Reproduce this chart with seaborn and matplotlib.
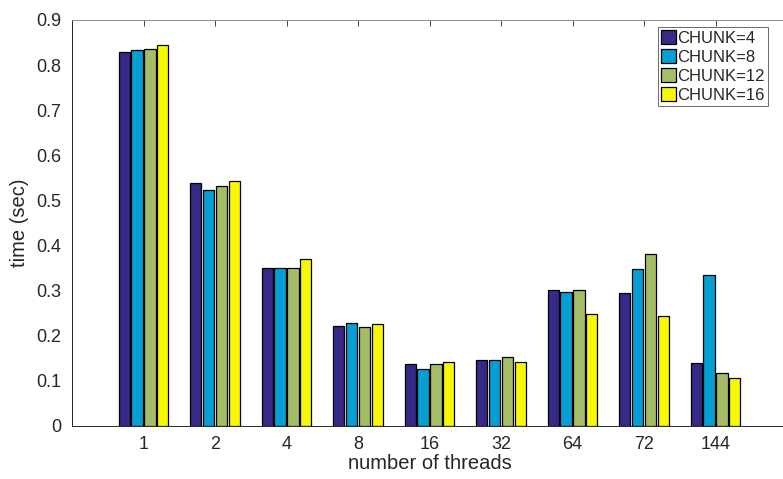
import pandas as pd
import seaborn as sns
import matplotlib.pyplot as plt

threads = ['1', '2', '4', '8', '16', '32', '64', '72', '144']
chunks = ['CHUNK=4', 'CHUNK=8', 'CHUNK=12', 'CHUNK=16']
chunk4 = [0.829, 0.538, 0.350, 0.221, 0.137, 0.146, 0.301, 0.295, 0.140]
chunk8 = [0.834, 0.524, 0.351, 0.229, 0.126, 0.146, 0.296, 0.347, 0.335]
chunk12 = [0.836, 0.533, 0.351, 0.220, 0.137, 0.152, 0.302, 0.382, 0.118]
chunk16 = [0.845, 0.544, 0.370, 0.226, 0.142, 0.142, 0.249, 0.244, 0.106]
cores = ['#352a87', '#069ed3', '#a6bd68', '#f8f806']

def criar_dataframe():
    linhas = []
    for nome, valores in zip(chunks, [chunk4, chunk8, chunk12, chunk16]):
        for t, v in zip(threads, valores):
            linhas.append({'threads': t, 'chunk': nome, 'time': v})
    return pd.DataFrame(linhas)

def grafico(df):
    sns.set_theme(style='white')
    plt.rcParams['font.family'] = ['Liberation Sans', 'DejaVu Sans']
    fig = plt.figure(figsize=(7.83, 4.79), dpi=100)
    ax = fig.add_axes([72 / 783, 53 / 479, 715 / 783, 406 / 479])

    sns.barplot(data=df, x='threads', y='time', hue='chunk', order=threads,
                hue_order=chunks, palette=cores, saturation=1, width=0.72, gap=0.12,
                edgecolor='black', linewidth=0.9, ax=ax)

    ax.set_xlim(-1, 9)
    ax.set_ylim(0, 0.9)
    ax.set_yticks([i / 10 for i in range(10)])
    ax.set_yticklabels(['0'] + [f'{i / 10:.1f}' for i in range(1, 10)])
    ax.set_xlabel('number of threads', fontsize=14.5, color='#262626', labelpad=1)
    ax.set_ylabel('time (sec)', fontsize=14.5, color='#262626', labelpad=5)
    ax.tick_params(axis='both', direction='in', length=4, width=0.6,
                   labelsize=13, colors='#262626', top=True, pad=8)
    ax.tick_params(axis='x', pad=7)
    for lado in ['left', 'bottom']:
        ax.spines[lado].set_color('#262626')
        ax.spines[lado].set_linewidth(0.7)
    ax.spines['top'].set_color('#8c8c8c')
    ax.spines['top'].set_linewidth(0.7)
    ax.spines['right'].set_visible(False)

    leg = ax.legend(loc='upper right', bbox_to_anchor=((768 - 72) / 715, 1 - 7 / 406),
                    fontsize=12, frameon=True, fancybox=False, edgecolor='#262626',
                    handlelength=0.85, handleheight=0.9, handletextpad=0.1,
                    labelspacing=0.2, borderpad=0.2, borderaxespad=0)
    leg.get_frame().set_linewidth(0.6)

    fig.savefig('out.png', dpi=100)

def main():
    df = criar_dataframe()
    grafico(df)

if __name__ == '__main__':
    main()
